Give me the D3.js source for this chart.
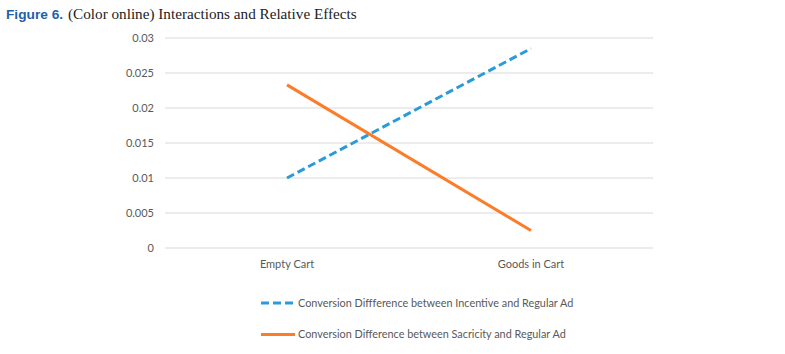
<!DOCTYPE html>
<html>
<head>
<meta charset="utf-8">
<script src="https://cdn.jsdelivr.net/npm/d3@7"></script>
<style>
  body { margin: 0; background: #fff; }
  svg text { font-family: Lato, "Open Sans", sans-serif; }
</style>
</head>
<body>
<div id="chart"></div>
<script>
// chart data
const categories = ["Empty Cart", "Goods in Cart"];
const incentiveValues = [0.0100, 0.0285];
const scarcityValues = [0.0233, 0.0025];
const yTicks = [0, 0.005, 0.01, 0.015, 0.02, 0.025, 0.03];
const seriesNames = [
    "Conversion Diffference between Incentive and Regular Ad",
    "Conversion Difference between Sacricity and Regular Ad"
];

const width = 785, height = 354;
const margin = { top: 38, right: 132, bottom: 106, left: 165 };

const svg = d3.select("#chart").append("svg")
    .attr("width", width)
    .attr("height", height);

// title
const title = svg.append("text")
    .attr("x", 6)
    .attr("y", 19);
title.append("tspan")
    .style("font-family", "'Liberation Sans', Arial, sans-serif")
    .style("font-size", "13.7px")
    .style("font-weight", "bold")
    .style("fill", "#1f5fa9")
    .text("Figure 6.");
title.append("tspan")
    .attr("dx", 5)
    .style("font-family", "'Liberation Serif', 'Times New Roman', serif")
    .style("font-size", "15.2px")
    .style("fill", "#222")
    .text("(Color online) Interactions and Relative Effects");

const xScale = d3.scaleBand()
    .domain(categories)
    .range([margin.left, width - margin.right]);

const yScale = d3.scaleLinear()
    .domain([0, 0.03])
    .range([height - margin.bottom, margin.top]);

// gridlines
svg.append("g")
    .selectAll("line")
    .data(yTicks)
    .enter().append("line")
    .attr("x1", margin.left)
    .attr("x2", width - margin.right)
    .attr("y1", d => yScale(d))
    .attr("y2", d => yScale(d))
    .attr("stroke", "#d9d9d9")
    .attr("stroke-width", 1);

// y axis labels
const yAxis = d3.axisLeft(yScale)
    .tickValues(yTicks)
    .tickFormat(d => d3.format("")(d))
    .tickSize(0)
    .tickPadding(11);

const yAxisG = svg.append("g")
    .attr("transform", `translate(${margin.left},0)`)
    .call(yAxis);
yAxisG.select(".domain").remove();
yAxisG.selectAll("text")
    .style("font-family", "Lato, 'Open Sans', sans-serif")
    .style("font-size", "11px")
    .style("fill", "#595959");

// x axis labels
const xAxis = d3.axisBottom(xScale)
    .tickSize(0)
    .tickPadding(12);
const xAxisG = svg.append("g")
    .attr("transform", `translate(0,${yScale(0)})`)
    .call(xAxis);
xAxisG.select(".domain").remove();
xAxisG.selectAll("text")
    .style("font-family", "Lato, 'Open Sans', sans-serif")
    .style("font-size", "11px")
    .style("fill", "#595959");

const xCenter = d => xScale(d) + xScale.bandwidth() / 2;

const series = [
    { name: seriesNames[0], values: incentiveValues, color: "#2a9ad8", dash: "8,4" },
    { name: seriesNames[1], values: scarcityValues, color: "#fb7d2a", dash: null }
];

const line = d3.line()
    .x((d, i) => xCenter(categories[i]))
    .y(d => yScale(d));

svg.append("g")
    .selectAll("path")
    .data(series)
    .enter().append("path")
    .attr("d", d => line(d.values))
    .attr("fill", "none")
    .attr("stroke", d => d.color)
    .attr("stroke-width", 3)
    .attr("stroke-dasharray", d => d.dash);

// legend
const legend = svg.append("g")
    .attr("transform", "translate(261,303)");

const legendItem = legend.selectAll("g")
    .data(series)
    .enter().append("g")
    .attr("transform", (d, i) => `translate(0,${i * 31.5})`);

legendItem.append("line")
    .attr("x1", 0)
    .attr("x2", 34)
    .attr("y1", 0)
    .attr("y2", 0)
    .attr("stroke", d => d.color)
    .attr("stroke-width", 3)
    .attr("stroke-dasharray", d => d.dash);

legendItem.append("text")
    .attr("x", 37)
    .attr("y", 0)
    .attr("dy", "0.35em")
    .style("font-size", "10.85px")
    .style("fill", "#595959")
    .text(d => d.name);
</script>
</body>
</html>
